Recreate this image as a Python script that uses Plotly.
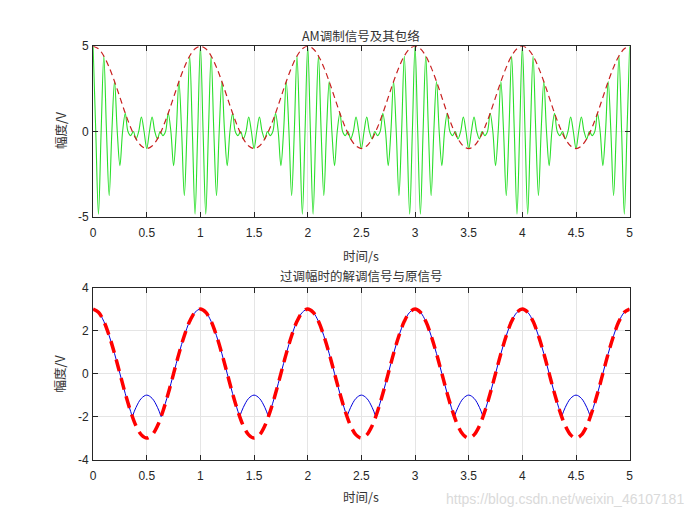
import plotly.graph_objects as go

# ---------------- data ----------------
# sample times (regular grid, seconds)
t_coarse = [i / 20 for i in range(101)]   # 0.05 s steps
t_fine = [i / 40 for i in range(201)]     # 0.025 s steps

# AM modulated signal sampled every 0.025 s (peaks / zero crossings)
am_signal = [
    5.00, 0, -4.85, 0, 4.43, 0, -3.76, 0, 2.93, 0, -2.00, 0, 1.07, 0, -0.24, 0, -0.43, 0, 0.85, 0,
    -1.00, 0, 0.85, 0, -0.43, 0, -0.24, 0, 1.07, 0, -2.00, 0, 2.93, 0, -3.76, 0, 4.43, 0, -4.85, 0,
    5.00, 0, -4.85, 0, 4.43, 0, -3.76, 0, 2.93, 0, -2.00, 0, 1.07, 0, -0.24, 0, -0.43, 0, 0.85, 0,
    -1.00, 0, 0.85, 0, -0.43, 0, -0.24, 0, 1.07, 0, -2.00, 0, 2.93, 0, -3.76, 0, 4.43, 0, -4.85, 0,
    5.00, 0, -4.85, 0, 4.43, 0, -3.76, 0, 2.93, 0, -2.00, 0, 1.07, 0, -0.24, 0, -0.43, 0, 0.85, 0,
    -1.00, 0, 0.85, 0, -0.43, 0, -0.24, 0, 1.07, 0, -2.00, 0, 2.93, 0, -3.76, 0, 4.43, 0, -4.85, 0,
    5.00, 0, -4.85, 0, 4.43, 0, -3.76, 0, 2.93, 0, -2.00, 0, 1.07, 0, -0.24, 0, -0.43, 0, 0.85, 0,
    -1.00, 0, 0.85, 0, -0.43, 0, -0.24, 0, 1.07, 0, -2.00, 0, 2.93, 0, -3.76, 0, 4.43, 0, -4.85, 0,
    5.00, 0, -4.85, 0, 4.43, 0, -3.76, 0, 2.93, 0, -2.00, 0, 1.07, 0, -0.24, 0, -0.43, 0, 0.85, 0,
    -1.00, 0, 0.85, 0, -0.43, 0, -0.24, 0, 1.07, 0, -2.00, 0, 2.93, 0, -3.76, 0, 4.43, 0, -4.85, 0,
    5.00,
]

# envelope sampled every 0.05 s
am_envelope = [
    5.00, 4.85, 4.43, 3.76, 2.93, 2.00, 1.07, 0.24, -0.43, -0.85,
    -1.00, -0.85, -0.43, 0.24, 1.07, 2.00, 2.93, 3.76, 4.43, 4.85,
    5.00, 4.85, 4.43, 3.76, 2.93, 2.00, 1.07, 0.24, -0.43, -0.85,
    -1.00, -0.85, -0.43, 0.24, 1.07, 2.00, 2.93, 3.76, 4.43, 4.85,
    5.00, 4.85, 4.43, 3.76, 2.93, 2.00, 1.07, 0.24, -0.43, -0.85,
    -1.00, -0.85, -0.43, 0.24, 1.07, 2.00, 2.93, 3.76, 4.43, 4.85,
    5.00, 4.85, 4.43, 3.76, 2.93, 2.00, 1.07, 0.24, -0.43, -0.85,
    -1.00, -0.85, -0.43, 0.24, 1.07, 2.00, 2.93, 3.76, 4.43, 4.85,
    5.00, 4.85, 4.43, 3.76, 2.93, 2.00, 1.07, 0.24, -0.43, -0.85,
    -1.00, -0.85, -0.43, 0.24, 1.07, 2.00, 2.93, 3.76, 4.43, 4.85,
    5.00,
]

# demodulated signal (blue) sampled every 0.05 s
demod_signal = [
    3.00, 2.85, 2.43, 1.76, 0.93, 0.00, -0.93, -1.76, -1.57, -1.15,
    -1.00, -1.15, -1.57, -1.76, -0.93, 0.00, 0.93, 1.76, 2.43, 2.85,
    3.00, 2.85, 2.43, 1.76, 0.93, 0.00, -0.93, -1.76, -1.57, -1.15,
    -1.00, -1.15, -1.57, -1.76, -0.93, 0.00, 0.93, 1.76, 2.43, 2.85,
    3.00, 2.85, 2.43, 1.76, 0.93, 0.00, -0.93, -1.76, -1.57, -1.15,
    -1.00, -1.15, -1.57, -1.76, -0.93, 0.00, 0.93, 1.76, 2.43, 2.85,
    3.00, 2.85, 2.43, 1.76, 0.93, 0.00, -0.93, -1.76, -1.57, -1.15,
    -1.00, -1.15, -1.57, -1.76, -0.93, 0.00, 0.93, 1.76, 2.43, 2.85,
    3.00, 2.85, 2.43, 1.76, 0.93, 0.00, -0.93, -1.76, -1.57, -1.15,
    -1.00, -1.15, -1.57, -1.76, -0.93, 0.00, 0.93, 1.76, 2.43, 2.85,
    3.00,
]
# sharp corners of the demodulated signal
demod_cusp_t = [0.366, 0.634, 1.366, 1.634, 2.366, 2.634, 3.366, 3.634, 4.366, 4.634]
demod_cusp_v = [-2.00, -2.00, -2.00, -2.00, -2.00, -2.00, -2.00, -2.00, -2.00, -2.00]

# original signal (red dashed) sampled every 0.05 s
orig_signal = [
    3.00, 2.85, 2.43, 1.76, 0.93, 0.00, -0.93, -1.76, -2.43, -2.85,
    -3.00, -2.85, -2.43, -1.76, -0.93, 0.00, 0.93, 1.76, 2.43, 2.85,
    3.00, 2.85, 2.43, 1.76, 0.93, 0.00, -0.93, -1.76, -2.43, -2.85,
    -3.00, -2.85, -2.43, -1.76, -0.93, 0.00, 0.93, 1.76, 2.43, 2.85,
    3.00, 2.85, 2.43, 1.76, 0.93, 0.00, -0.93, -1.76, -2.43, -2.85,
    -3.00, -2.85, -2.43, -1.76, -0.93, 0.00, 0.93, 1.76, 2.43, 2.85,
    3.00, 2.85, 2.43, 1.76, 0.93, 0.00, -0.93, -1.76, -2.43, -2.85,
    -3.00, -2.85, -2.43, -1.76, -0.93, 0.00, 0.93, 1.76, 2.43, 2.85,
    3.00, 2.85, 2.43, 1.76, 0.93, 0.00, -0.93, -1.76, -2.43, -2.85,
    -3.00, -2.85, -2.43, -1.76, -0.93, 0.00, 0.93, 1.76, 2.43, 2.85,
    3.00,
]

x_ticks = [0, 0.5, 1, 1.5, 2, 2.5, 3, 3.5, 4, 4.5, 5]
x_ticktext = ["0", "0.5", "1", "1.5", "2", "2.5", "3", "3.5", "4", "4.5", "5"]
y_ticks_top = [-5, 0, 5]
y_ticktext_top = ["-5", "0", "5"]
y_ticks_bot = [-4, -2, 0, 2, 4]
y_ticktext_bot = ["-4", "-2", "0", "2", "4"]

title_top = "AM调制信号及其包络"
title_bottom = "过调幅时的解调信号与原信号"
xlabel = "时间/s"
ylabel = "幅度/V"
watermark = "https://blog.csdn.net/weixin_46107181"

# ---------------- build demodulated trace with sharp corners ----------------
pts = [(t, v, False) for t, v in zip(t_coarse, demod_signal)]
pts += [(t, v, True) for t, v in zip(demod_cusp_t, demod_cusp_v)]
pts.sort(key=lambda p: p[0])
dx, dy = [], []
for t, v, cusp in pts:
    dx.append(t); dy.append(v)
    if cusp:
        dx.extend([None, t]); dy.extend([None, v])

# ---------------- figure ----------------
W, H = 700, 525
L, R = 91, 633
top_t, top_b = 40.3, 215.5
bot_t, bot_b = 288.3, 465.0

fig = go.Figure()
fig.add_trace(go.Scatter(x=t_fine, y=am_signal, mode="lines",
                         line=dict(color="#2ADF2A", width=1.1, shape="spline", smoothing=1.0),
                         xaxis="x", yaxis="y", showlegend=False))
fig.add_trace(go.Scatter(x=t_coarse, y=am_envelope, mode="lines",
                         line=dict(color="#C82020", width=1.2, dash="6px,4px", shape="spline"),
                         xaxis="x", yaxis="y", showlegend=False))
fig.add_trace(go.Scatter(x=dx, y=dy, mode="lines", connectgaps=False,
                         line=dict(color="#0000DD", width=1.0, shape="spline"),
                         xaxis="x2", yaxis="y2", showlegend=False))
fig.add_trace(go.Scatter(x=t_coarse, y=orig_signal, mode="lines",
                         line=dict(color="#FF0000", width=3.5, dash="12px,7px", shape="spline"),
                         xaxis="x2", yaxis="y2", showlegend=False))

tickfont = dict(family="Liberation Sans, Arial, sans-serif", size=12, color="#262626")
common = dict(showline=True, linecolor="#262626", linewidth=1, mirror="allticks",
              ticks="inside", ticklen=5, tickcolor="#262626", showgrid=True,
              gridcolor="#E5E5E5", gridwidth=1, zeroline=False, tickfont=tickfont)

xd = [L / W, R / W]
fig.update_layout(
    width=W, height=H,
    margin=dict(l=0, r=0, t=0, b=0),
    paper_bgcolor="white", plot_bgcolor="white",
    xaxis=dict(domain=xd, range=[0, 5], tickvals=x_ticks, ticktext=x_ticktext,
               anchor="y", ticklabelstandoff=5, **common),
    yaxis=dict(domain=[1 - top_b / H, 1 - top_t / H], range=[-5, 5],
               tickvals=y_ticks_top, ticktext=y_ticktext_top, anchor="x",
               ticklabelstandoff=1, **common),
    xaxis2=dict(domain=xd, range=[0, 5], tickvals=x_ticks, ticktext=x_ticktext,
                anchor="y2", ticklabelstandoff=5, **common),
    yaxis2=dict(domain=[1 - bot_b / H, 1 - bot_t / H], range=[-4, 4],
                tickvals=y_ticks_bot, ticktext=y_ticktext_bot, anchor="x2",
                ticklabelstandoff=1, **common),
)

cjk = dict(family="Noto Sans CJK SC, sans-serif", size=12.5, color="#333333")
cx = (L + R) / 2 / W
anns = [
    dict(text=title_top, x=cx, y=1 - 29 / H),
    dict(text=title_bottom, x=cx, y=1 - 276 / H),
    dict(text=xlabel, x=cx, y=1 - 255 / H),
    dict(text=xlabel, x=cx, y=1 - 503 / H),
    dict(text=ylabel, x=58 / W, y=1 - 126 / H, textangle=-90),
    dict(text=ylabel, x=58 / W, y=1 - 376 / H, textangle=-90),
]
for a in anns:
    fig.add_annotation(xref="paper", yref="paper", showarrow=False,
                       xanchor="center", yanchor="middle", font=cjk, **a)
fig.add_annotation(text=watermark, xref="paper", yref="paper", x=690 / W, y=1 - 505 / H,
                   xanchor="right", yanchor="middle", showarrow=False,
                   font=dict(family="Liberation Sans, Arial, sans-serif", size=14, color="#DADADA"))

fig.write_html("out.html")
